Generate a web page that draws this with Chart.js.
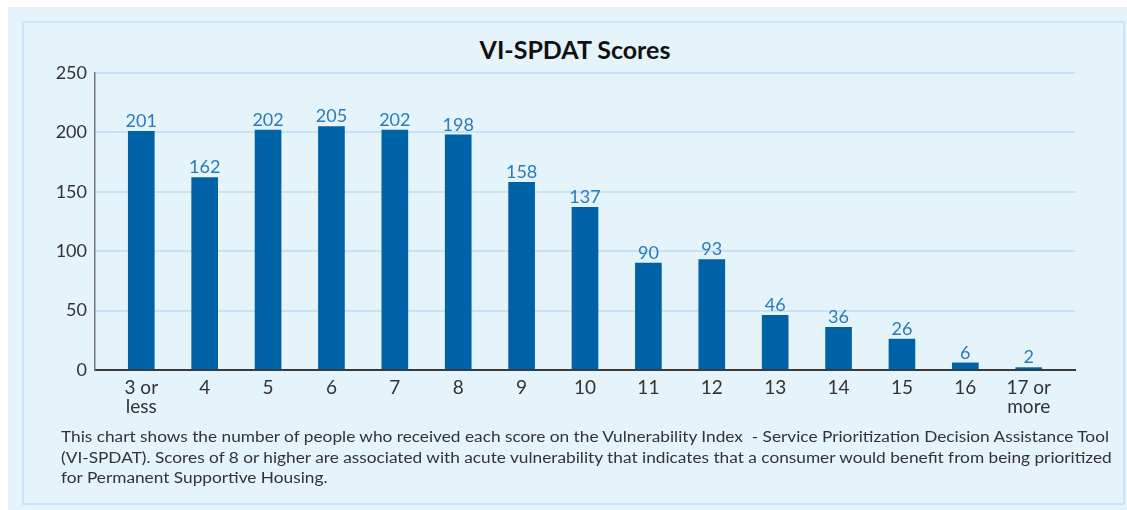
<!DOCTYPE html>
<html>
<head>
<meta charset="utf-8">
<script src="https://cdn.jsdelivr.net/npm/chart.js@4"></script>
<style>
  body { margin: 0; background: #fff; font-family: Lato, "Open Sans", sans-serif; }
  #outer { position: absolute; left: 8px; top: 7px; width: 1119px; height: 503px; background: #e5f3fb; }
  #box { position: absolute; left: 22px; top: 21px; width: 1099px; height: 480px; border: 2px solid #c9e5f7; }
  #title { position: absolute; left: 0; top: 34px; width: 1150px; text-align: center; font-weight: bold; font-size: 25px; color: #111; }
  #wrap { position: absolute; left: 0; top: 0; width: 1127px; height: 510px; }
  #note { position: absolute; left: 61px; top: 426px; font-size: 15.5px; line-height: 20.5px; color: #333; white-space: nowrap; transform-origin: left top; }
</style>
</head>
<body>
<div id="outer"></div>
<div id="box"></div>
<div id="title">VI-SPDAT Scores</div>
<div id="wrap"><canvas id="chart"></canvas></div>
<div id="note"><span id="line1">This chart shows the number of people who received each score on the Vulnerability Index&nbsp; - Service Prioritization Decision Assistance Tool</span><br>(VI-SPDAT). Scores of 8 or higher are associated with acute vulnerability that indicates that a consumer would benefit from being prioritized<br>for Permanent Supportive Housing.</div>
<script>
// data
const scores = [["3 or", "less"], "4", "5", "6", "7", "8", "9", "10", "11", "12", "13", "14", "15", "16", ["17 or", "more"]];
const people = [201, 162, 202, 205, 202, 198, 158, 137, 90, 93, 46, 36, 26, 6, 2];
const yTicks = [0, 50, 100, 150, 200, 250];

// fit the footnote width
const note = document.getElementById("note");
const w = document.getElementById("line1").getBoundingClientRect().width;
note.style.transform = "scaleX(" + (1048 / w) + ")";

// value labels above bars
const barLabels = {
  id: "barLabels",
  afterDatasetsDraw(chart) {
    const ctx = chart.ctx;
    ctx.save();
    ctx.font = "18px Lato";
    ctx.fillStyle = "#2a7bbd";
    ctx.textAlign = "center";
    ctx.textBaseline = "bottom";
    chart.getDatasetMeta(0).data.forEach((bar, i) => {
      ctx.fillText(people[i], bar.x, bar.y - 1);
    });
    ctx.restore();
  },
};

new Chart(document.getElementById("chart"), {
  type: "bar",
  data: {
    datasets: [
      {
        data: people.map((v, i) => ({ x: i, y: v })),
        backgroundColor: "#0062a6",
        barThickness: 26,
      },
    ],
  },
  options: {
    responsive: true,
    maintainAspectRatio: false,
    animation: false,
    layout: { padding: { top: 73, right: 52, bottom: 80, left: 0 } },
    plugins: { legend: { display: false }, tooltip: { enabled: false } },
    scales: {
      x: {
        type: "linear",
        min: -0.73,
        max: 14.73,
        offset: false,
        afterBuildTicks: (s) => {
          s.ticks = scores.map((c, i) => ({ value: i }));
        },
        afterFit: (s) => {
          s.height = 60;
        },
        grid: { display: false },
        border: { color: "#3a3a3a", width: 2 },
        ticks: {
          padding: 1,
          color: "#333",
          font: { family: "Lato", size: 19, lineHeight: 0.98 },
          maxRotation: 0,
          callback: (v) => scores[v],
        },
      },
      y: {
        min: 0,
        max: 250,
        afterBuildTicks: (s) => {
          s.ticks = yTicks.map((v) => ({ value: v }));
        },
        afterFit: (s) => {
          s.width = 95;
        },
        grid: {
          color: (c) => (c.tick && c.tick.value === 0 ? "rgba(0,0,0,0)" : "#c6e2f4"),
          lineWidth: 2,
          drawTicks: false,
        },
        border: { color: "#777", width: 1.5 },
        ticks: {
          padding: 8,
          color: "#333",
          font: { family: "Lato", size: 18 },
        },
      },
    },
  },
  plugins: [barLabels],
});
</script>
</body>
</html>
